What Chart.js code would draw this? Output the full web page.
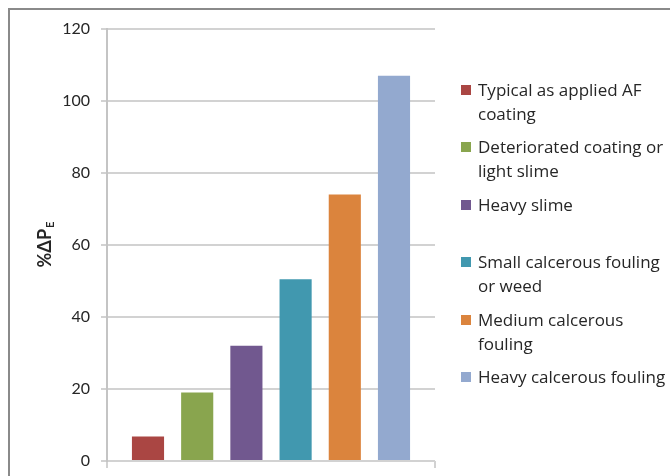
<!DOCTYPE html>
<html>
<head>
<meta charset="utf-8">
<script src="https://cdn.jsdelivr.net/npm/chart.js@4.4.1/dist/chart.umd.min.js"></script>
<style>
    body { margin: 0; background: #fff; }
    #wrap { position: relative; width: 670px; height: 476px; overflow: hidden; }
    #frame {
        position: absolute; left: 8px; top: 8px; width: 700px; height: 500px;
        border-left: 2px solid #8a8a8a; border-top: 2px solid #8a8a8a;
    }
    #chart { position: absolute; left: 0; top: 0; }
    #legend {
        position: absolute; left: 461px; top: 78px;
        font-family: "Open Sans", Lato, sans-serif; font-size: 17px; color: #262626;
    }
    .item { position: relative; height: 57.4px; padding-left: 17px; line-height: 24px; white-space: nowrap; }
    .box { position: absolute; left: 0; top: 7px; width: 10px; height: 10px; }
</style>
</head>
<body>
<div id="wrap">
    <div id="frame"></div>
    <canvas id="chart" width="670" height="476"></canvas>
    <div id="legend"></div>
</div>
<script>

// data
const seriesNames = [
    ["Typical as applied AF", "coating"],
    ["Deteriorated coating or", "light slime"],
    ["Heavy slime"],
    ["Small calcerous fouling", "or weed"],
    ["Medium calcerous", "fouling"],
    ["Heavy calcerous fouling"]
];
const seriesValues = [6.8, 19, 32, 50.5, 74, 107];
const seriesColors = ["#AA4643", "#89A54E", "#71588F", "#4198AF", "#DB843D", "#93A9CF"];
const yTicks = [0, 20, 40, 60, 80, 100, 120];

const gridColor = "#d2d2d2";

// one category, one dataset per series (like the excel chart)
let datasets = seriesValues.map(function(v, i){
    return {
        label: seriesNames[i].join(" "),
        data: [v],
        backgroundColor: seriesColors[i],
        barPercentage: 0.653,
        categoryPercentage: 0.9
    };
});

// y title with subscript E
const yTitle = {
    id: "yTitle",
    afterDraw(chart){
        let ctx = chart.ctx;
        ctx.save();
        ctx.translate(45, (chart.chartArea.top + chart.chartArea.bottom) / 2);
        ctx.rotate(-Math.PI / 2);
        ctx.fillStyle = "#262626";
        ctx.textBaseline = "middle";
        ctx.font = "bold 18px Lato, 'Open Sans', sans-serif";
        let main = "%ΔP";
        let w1 = ctx.measureText(main).width;
        ctx.font = "bold 11px Lato, 'Open Sans', sans-serif";
        let w2 = ctx.measureText("E").width;
        let x0 = -(w1 + w2) / 2;
        ctx.font = "bold 18px Lato, 'Open Sans', sans-serif";
        ctx.fillText(main, x0, 0);
        ctx.font = "bold 11px Lato, 'Open Sans', sans-serif";
        ctx.fillText("E", x0 + w1 + 1, 5);
        ctx.restore();
    }
};

new Chart(document.getElementById("chart"), {
    type: "bar",
    data: {
        labels: [""],
        datasets: datasets
    },
    options: {
        responsive: false,
        animation: false,
        layout: { padding: { left: 0, right: 235, top: 29, bottom: 0 } },
        plugins: {
            legend: { display: false },
            tooltip: { enabled: false }
        },
        scales: {
            x: {
                grid: { display: true, drawOnChartArea: false, color: gridColor, lineWidth: 2, tickLength: 7 },
                border: { display: false },
                ticks: { display: false },
                afterFit(scale){ scale.height = 15; }
            },
            y: {
                min: 0,
                max: 120,
                afterBuildTicks(scale){
                    scale.ticks = yTicks.map(function(v){ return { value: v }; });
                },
                grid: { color: gridColor, lineWidth: 2, tickLength: 6 },
                border: { color: "#c4c4c4", width: 2 },
                ticks: {
                    color: "#262626",
                    padding: 11,
                    font: { family: "Lato, 'Open Sans', sans-serif", size: 16 }
                },
                afterFit(scale){
                    scale.width = 107;
                    scale.paddingTop = 0;
                    scale.paddingBottom = 0;
                }
            }
        }
    },
    plugins: [yTitle]
});

// html legend
let legend = document.getElementById("legend");
seriesNames.forEach(function(lines, i){
    let item = document.createElement("div");
    item.className = "item";
    let box = document.createElement("span");
    box.className = "box";
    box.style.background = seriesColors[i];
    item.appendChild(box);
    let txt = document.createElement("span");
    txt.innerHTML = lines.join("<br>");
    item.appendChild(txt);
    legend.appendChild(item);
});

</script>
</body>
</html>
